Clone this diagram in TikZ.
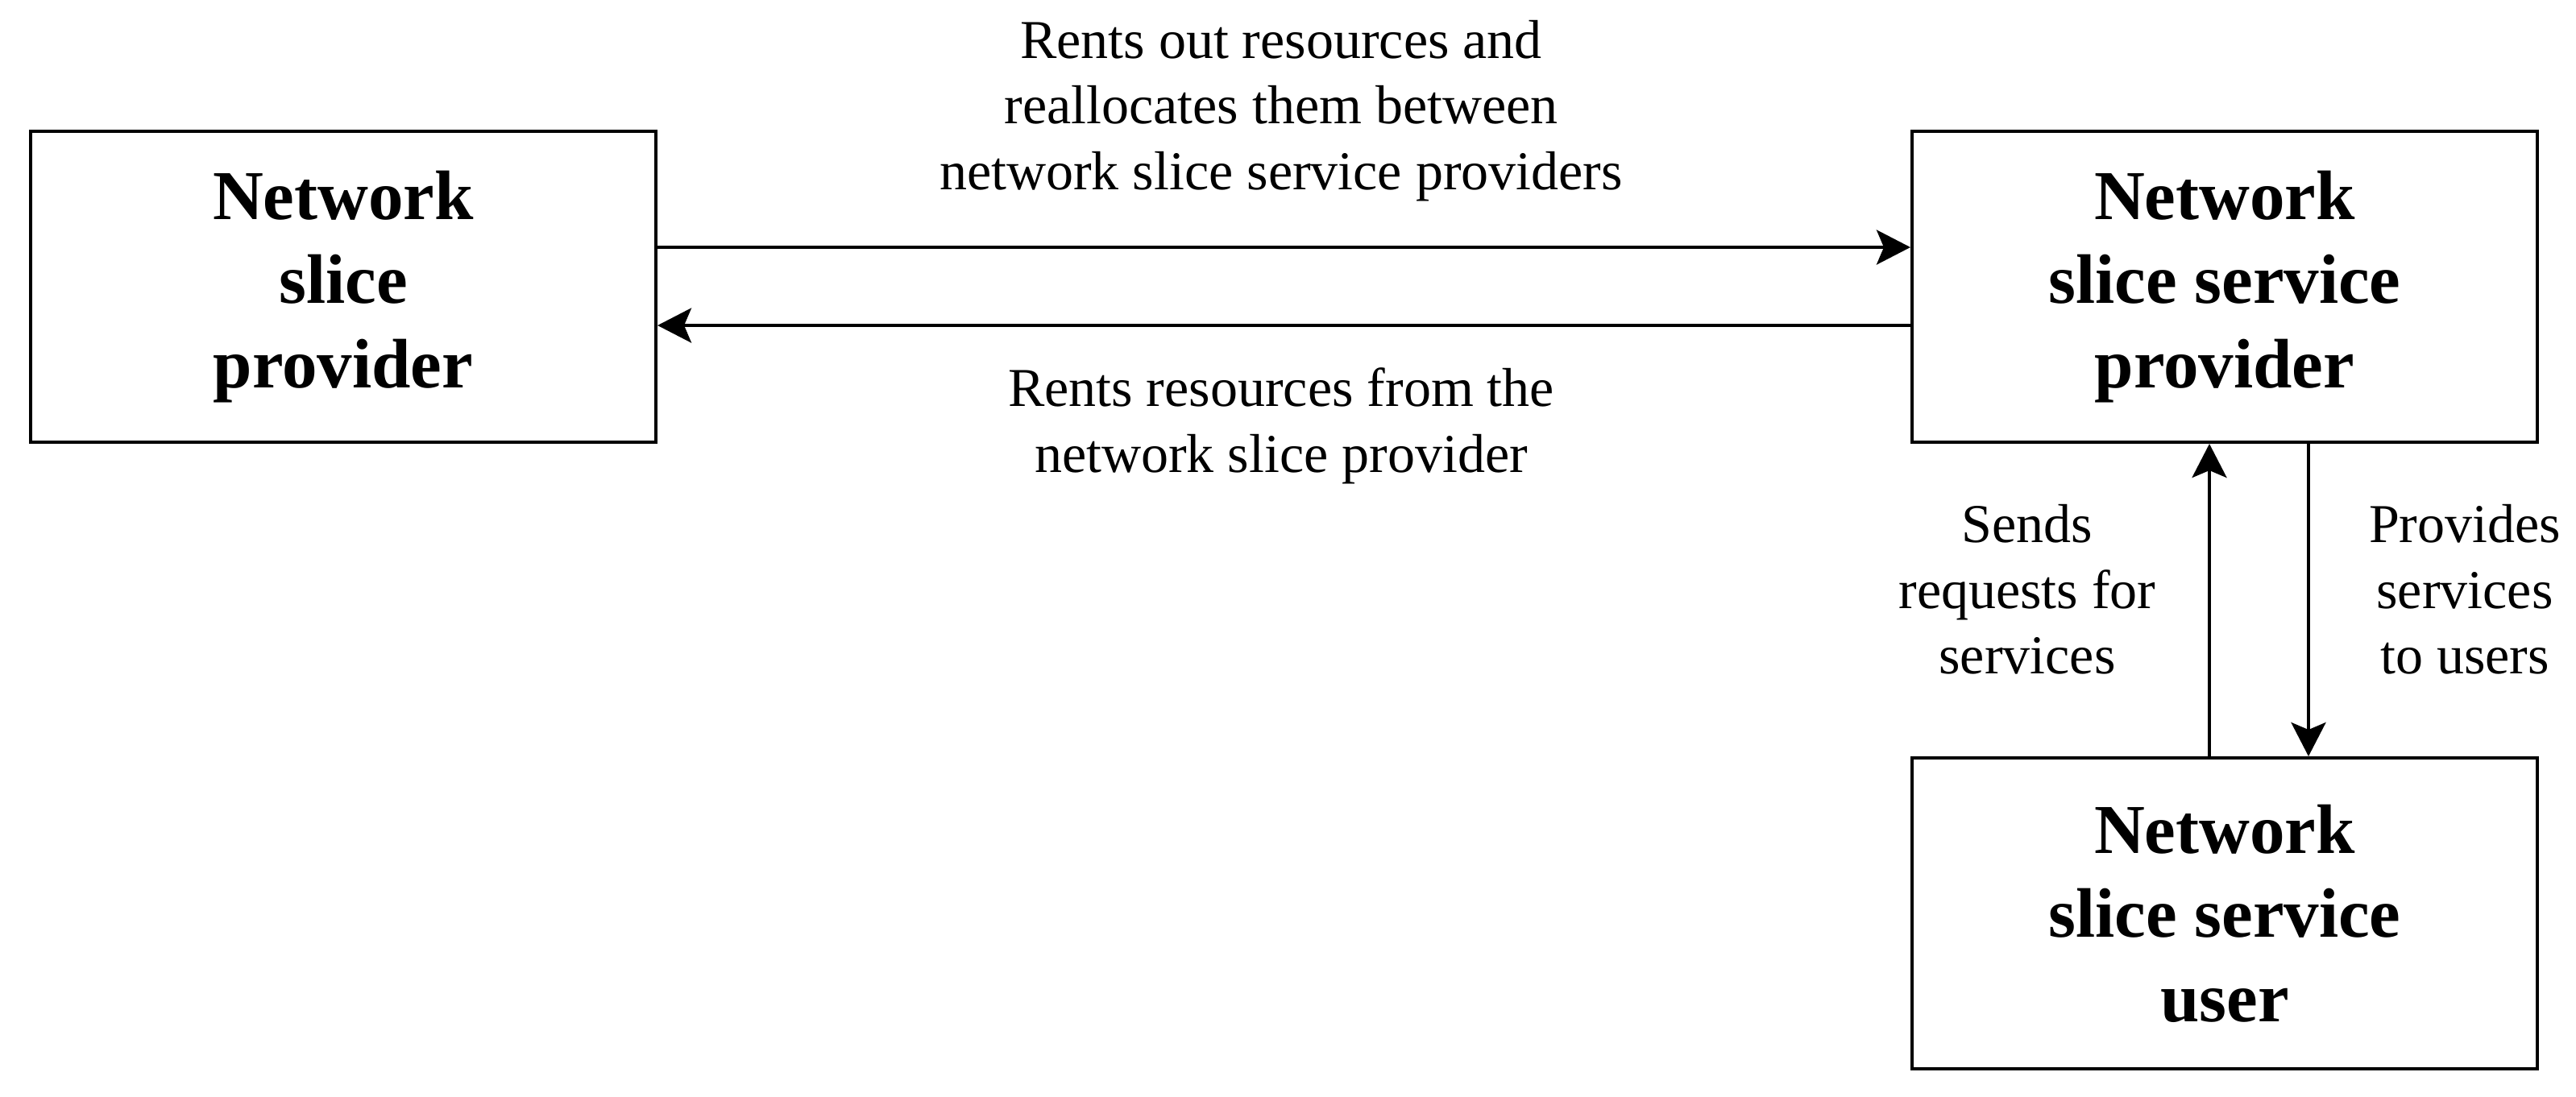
\documentclass[tikz,border=0pt]{standalone}
\usepackage{fontspec}
\setmainfont{Liberation Serif}
\usetikzlibrary{arrows.meta}
\tikzset{
	slicebox/.style={draw, line width=1.15pt, minimum width=7.76cm, minimum height=3.86cm, inner sep=0pt, align=center, font=\fontsize{24.75}{29.7}\selectfont\bfseries},
	slicelabel/.style={inner sep=0pt, align=center, font=\fontsize{19.35}{23.2}\selectfont},
	slicearrow/.style={line width=1.15pt, -{Stealth[length=4.2mm, width=4.3mm, inset=0.9mm]}}
}

\begin{document}
\begin{tikzpicture}
		%%%%% START %%%%%
		\useasboundingbox (0, 0) rectangle (31.97, -13.61);
		
		\node[slicebox] (nsp) at (4.26, -3.56) {Network\\slice\\provider};
		\node[slicebox] (nssp) at (27.61, -3.56) {Network\\slice service\\provider};
		\node[slicebox] (nssu) at (27.61, -11.34) {Network\\slice service\\user};
		
		\draw[slicearrow] ([yshift=4.9mm]nsp.east) -- ([yshift=4.9mm]nssp.west);
		\draw[slicearrow] ([yshift=-4.8mm]nssp.west) -- ([yshift=-4.8mm]nsp.east);
		
		\draw[slicearrow] ([xshift=-1.9mm]nssu.north) -- ([xshift=-1.9mm]nssp.south);
		\draw[slicearrow] ([xshift=10.4mm]nssp.south) -- ([xshift=10.4mm]nssu.north);
		
		\node[slicelabel] (rentout) at (15.90, -1.375) {Rents out resources and\\reallocates them between\\network slice service providers};
		\node[slicelabel] (rentfrom) at (15.90, -5.29) {Rents resources from the\\network slice provider};
		\node[slicelabel] (sends) at (25.16, -7.32) {Sends\\requests for\\services};
		\node[slicelabel] (provides) at (30.59, -7.32) {Provides\\services\\to users};
		
		%%%%% END %%%%%
\end{tikzpicture}
\end{document}
